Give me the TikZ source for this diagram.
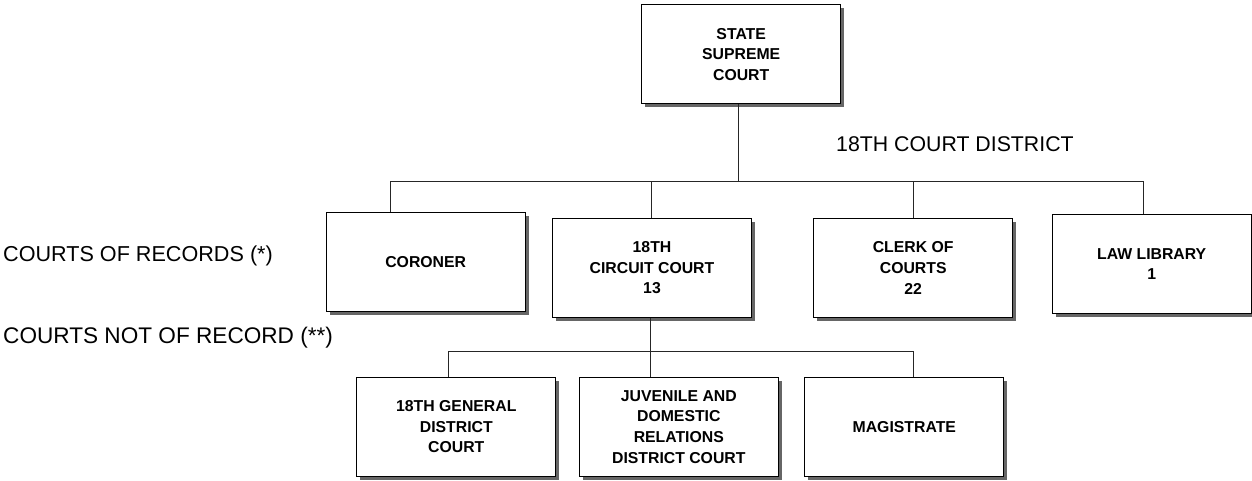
\documentclass[tikz,border=0pt]{standalone}
\usepackage{fontspec}
\setmainfont{Liberation Sans}
\usetikzlibrary{shadows}
\begin{document}
\begin{tikzpicture}[x=1pt,y=-1pt,
  box/.style={draw=black, line width=1pt, fill=white, minimum width=199pt, minimum height=99pt,
    inner sep=0pt, align=center, font=\fontsize{15.8}{20.6}\selectfont\bfseries,
    drop shadow={shadow xshift=3.5pt, shadow yshift=-3.5pt, fill=black!60, opacity=1}},
  lbl/.style={font=\fontsize{21.3}{24}\selectfont, inner sep=0pt},
  conn/.style={draw=black!85, line width=0.9pt}]
\useasboundingbox (0,0) rectangle (1252,481);
\node[box] (top) at (741.2,54.5) {STATE\\SUPREME\\COURT};
\node[box] (coroner) at (425.7,261.7) {CORONER};
\node[box] (circuit) at (652,267.8) {18TH\\CIRCUIT COURT\\13};
\node[box] (clerk) at (913.2,268) {CLERK OF\\COURTS\\22};
\node[box] (law) at (1151.7,264) {LAW LIBRARY\\1};
\node[box] (general) at (456.3,426.8) {18TH GENERAL\\DISTRICT\\COURT};
\node[box] (juvenile) at (678.8,426.8) {JUVENILE AND\\DOMESTIC\\RELATIONS\\DISTRICT COURT};
\node[box] (magistrate) at (904.3,427) {MAGISTRATE};
\node[lbl, anchor=base west] (district) at (836,151.7) {18TH COURT DISTRICT};
\node[lbl, anchor=base west, font=\fontsize{21.6}{24}\selectfont] (records) at (3,261.7) {COURTS OF RECORDS (*)};
\node[lbl, anchor=base west, font=\fontsize{22.6}{24}\selectfont] (notrecords) at (3,343.3) {COURTS NOT OF RECORD (**)};
\coordinate (b1) at (390,181.5);
\coordinate (b2) at (651.3,181.5);
\coordinate (b3) at (913.3,181.5);
\coordinate (b4) at (1143.3,181.5);
\coordinate (c1) at (448.2,351.7);
\coordinate (c2) at (650,351.7);
\coordinate (c3) at (913.5,351.7);
\draw[conn] ([xshift=-2.5pt]top.south) -- ([xshift=-2.5pt]top.south |- b1);
\draw[conn] (b1) -- (b4);
\draw[conn] (b1) -- (b1 |- coroner.north);
\draw[conn] (b2) -- (b2 |- circuit.north);
\draw[conn] (b3) -- (b3 |- clerk.north);
\draw[conn] (b4) -- (b4 |- law.north);
\draw[conn] (c2 |- circuit.south) -- (c2 |- juvenile.north);
\draw[conn] (c1) -- (c3);
\draw[conn] (c1) -- (c1 |- general.north);
\draw[conn] (c3) -- (c3 |- magistrate.north);
\end{tikzpicture}
\end{document}
